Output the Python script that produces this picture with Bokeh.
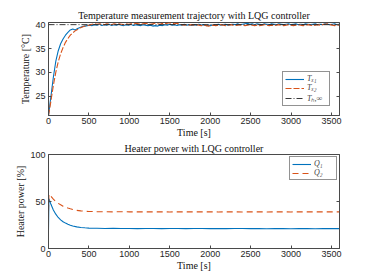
from bokeh.plotting import figure
from bokeh.layouts import column
from bokeh.models import Range1d, LinearAxis, FixedTicker, Legend, LegendItem
from bokeh.embed import file_html
from bokeh.resources import INLINE

# ---------------- data ----------------
T_STEP = 30
T_X1 = [21.0, 25.0, 29.0, 32.3, 34.5, 36.0, 37.0, 37.8, 38.4, 38.9, 39.1, 38.9, 39.2, 39.4, 39.6, 39.7, 39.8, 39.9,
        39.8, 40.0, 39.9, 40.1, 39.8, 40.0, 39.9, 40.1, 39.8, 40.0, 39.9, 40.1, 39.9, 39.8, 40.0, 39.9, 40.1, 39.8,
        40.0, 39.9, 39.8, 40.0, 39.9, 39.8, 39.9, 39.7, 39.8, 39.7, 39.9, 39.8, 40.0, 39.9, 40.1, 39.9, 40.0, 39.8,
        40.0, 39.9, 40.1, 39.9, 40.0, 39.8, 40.0, 39.9, 40.1, 39.9, 40.0, 39.8, 39.9, 39.8, 40.0, 39.9, 40.1, 39.9,
        40.0, 40.1, 39.9, 40.0, 40.1, 40.0, 40.2, 40.0, 40.1, 40.2, 40.3, 40.1, 40.2, 40.0, 40.2, 40.1, 40.0, 40.2,
        40.1, 40.0, 40.2, 40.1, 40.0, 40.2, 40.1, 40.0, 40.1, 40.2, 40.0, 40.1, 40.2, 40.0, 40.1, 40.0, 40.2, 40.1,
        40.0, 40.1, 40.2, 40.0, 40.1, 40.0, 40.2, 40.1, 40.0, 40.1, 40.2, 40.0, 40.1]
T_X2 = [21.0, 24.0, 27.3, 30.0, 32.2, 33.9, 35.2, 36.3, 37.1, 37.8, 38.3, 38.7, 39.0, 39.3, 39.5, 39.7, 39.8, 39.9,
        40.1, 40.2, 40.1, 40.2, 40.1, 40.0, 40.2, 40.1, 40.0, 40.2, 40.1, 40.2, 40.1, 40.0, 40.2, 40.1, 40.2, 40.1,
        40.3, 40.2, 40.1, 40.2, 40.3, 40.2, 40.1, 40.2, 40.3, 40.2, 40.1, 40.3, 40.2, 40.3, 40.4, 40.3, 40.2, 40.3,
        40.1, 40.0, 39.9, 40.0, 39.9, 40.0, 39.9, 40.0, 39.9, 39.8, 39.9, 39.8, 39.7, 39.8, 39.9, 39.8, 39.9, 40.0,
        39.9, 39.8, 39.9, 40.0, 39.9, 39.8, 39.9, 40.0, 39.9, 39.8, 39.9, 40.0, 39.9, 39.8, 39.9, 39.8, 39.9, 40.0,
        39.9, 39.8, 39.9, 39.8, 39.9, 40.0, 39.9, 39.8, 39.9, 40.0, 39.9, 39.8, 39.9, 40.0, 39.9, 39.8, 39.9, 40.0,
        39.9, 39.8, 39.9, 40.0, 39.9, 40.0, 40.1, 40.2, 40.0, 39.9, 39.8, 39.9, 39.9]
T_SET = 40.0

Q_TIME = [0, 5, 10, 30, 60, 90, 120, 150, 180, 210, 240, 270, 300, 350, 400, 450, 500,
          600, 700, 800, 900, 1000, 1100, 1200, 1300, 1400, 1500, 1600, 1700, 1800, 1900, 2000,
          2100, 2200, 2300, 2400, 2500, 2600, 2700, 2800, 2900, 3000, 3100, 3200, 3300, 3400, 3500, 3600]
Q_1 = [20.0, 53.0, 52.0, 47.0, 41.0, 36.5, 33.0, 30.5, 28.5, 27.0, 25.8, 24.8, 24.0, 23.0, 22.4, 22.0, 21.7,
       21.5, 21.3, 21.4, 21.2, 21.3, 21.1, 21.3, 21.2, 21.1, 21.3, 21.2, 21.1, 21.2, 21.3, 21.1,
       21.2, 21.1, 21.3, 21.2, 21.1, 21.2, 21.0, 21.2, 21.1, 21.0, 21.2, 21.1, 21.0, 21.1, 21.2, 21.1]
Q_2 = [40.0, 57.0, 58.0, 55.5, 52.5, 50.0, 48.0, 46.5, 45.0, 44.0, 43.0, 42.2, 41.5, 40.6, 40.0, 39.6, 39.4,
       39.2, 39.1, 39.0, 39.1, 39.0, 39.0, 38.9, 39.0, 39.0, 38.9, 39.0, 39.0, 38.9, 39.0, 39.0,
       38.9, 39.0, 39.0, 38.9, 39.0, 39.0, 38.9, 39.0, 39.0, 38.9, 39.0, 39.0, 38.9, 39.0, 39.0, 39.0]

X_TICKS = [0, 500, 1000, 1500, 2000, 2500, 3000, 3500]
T_TICKS = [25, 30, 35, 40]
Q_TICKS = [0, 50, 100]

t1 = [T_STEP * i for i in range(len(T_X1))]
t2 = [T_STEP * i for i in range(len(T_X2))]

BLUE = "#0072BD"
ORANGE = "#D95319"
AX = "#4a4a4a"
SERIF = "Liberation Serif"
SANS = "Liberation Sans"


def tick_style(ax, tk):
    ax.ticker = FixedTicker(ticks=tk)
    ax.major_tick_in = 3
    ax.major_tick_out = 0
    ax.minor_tick_line_color = None
    ax.axis_line_color = AX
    ax.major_tick_line_color = AX


def style(p, yticks, title_standoff):
    p.outline_line_color = AX
    p.outline_line_width = 1
    p.xgrid.visible = False
    p.ygrid.visible = False
    p.title.text_font = SERIF
    p.title.text_font_style = "normal"
    p.title.text_font_size = "10px"
    p.title.align = "center"
    p.title.text_color = "#111111"
    p.title.offset = 0
    p.title.standoff = title_standoff
    for ax, tk in ((p.xaxis[0], X_TICKS), (p.yaxis[0], yticks)):
        tick_style(ax, tk)
        ax.major_label_text_font = SANS
        ax.major_label_text_font_size = "9px"
        ax.major_label_text_color = "#262626"
        ax.axis_label_text_font = SERIF
        ax.axis_label_text_font_style = "normal"
        ax.axis_label_text_font_size = "10px"
        ax.axis_label_text_color = "#111111"
    p.xaxis[0].major_label_standoff = 2
    p.xaxis[0].axis_label_standoff = 0
    p.yaxis[0].major_label_standoff = 3
    p.yaxis[0].axis_label_standoff = 1
    # mirrored ticks on the right edge (box on); its labels are not drawn
    ax = LinearAxis()
    tick_style(ax, yticks)
    ax.major_label_text_color = None
    ax.major_label_standoff = 0
    p.add_layout(ax, "right")


def legend(p, items, loc):
    lg = Legend(items=items, location=loc, padding=2, spacing=0,
                glyph_width=19, glyph_height=8, label_standoff=3,
                label_text_font=SERIF, label_text_font_style="italic",
                label_text_font_size="8px", label_height=8,
                border_line_color="#262626", border_line_width=1,
                background_fill_alpha=1)
    p.add_layout(lg, "center")


# ---------------- top: temperatures ----------------
p1 = figure(width=360, height=140, output_backend="svg", toolbar_location=None,
            title="Temperature measurement trajectory with LQG controller",
            x_range=Range1d(0, 3600), y_range=Range1d(21.0, 40.45),
            x_axis_label="Time [s]", y_axis_label="Temperature [°C]",
            frame_width=291, frame_height=93,
            min_border_left=48, min_border_right=21, min_border_top=22, min_border_bottom=24)
style(p1, T_TICKS, 4)
r1 = p1.line(t1, T_X1, color=BLUE, line_width=1.1)
r2 = p1.line(t2, T_X2, color=ORANGE, line_width=1.1, line_dash="6 2")
r3 = p1.line([0, 3600], [T_SET, T_SET], color="#222222", line_width=0.9, line_dash="6 2 1 2")
legend(p1, [LegendItem(label="Tₓ₁", renderers=[r1]),
            LegendItem(label="Tₓ₂", renderers=[r2]),
            LegendItem(label="Tₕ,∞", renderers=[r3])], (234, 9))

# ---------------- bottom: heater power ----------------
p2 = figure(width=360, height=133, output_backend="svg", toolbar_location=None,
            title="Heater power with LQG controller",
            x_range=Range1d(0, 3600), y_range=Range1d(0, 100),
            x_axis_label="Time [s]", y_axis_label="Heater power [%]",
            frame_width=291, frame_height=94,
            min_border_left=48, min_border_right=21, min_border_top=13, min_border_bottom=24)
style(p2, Q_TICKS, 1)
q1 = p2.line(Q_TIME, Q_1, color=BLUE, line_width=1.1)
q2 = p2.line(Q_TIME, Q_2, color=ORANGE, line_width=1.1, line_dash="6 4")
legend(p2, [LegendItem(label="Q₁", renderers=[q1]),
            LegendItem(label="Q₂", renderers=[q2])], (241, 68))

layout = column(p1, p2, spacing=0)
open("out.html", "w").write(file_html(layout, INLINE))
